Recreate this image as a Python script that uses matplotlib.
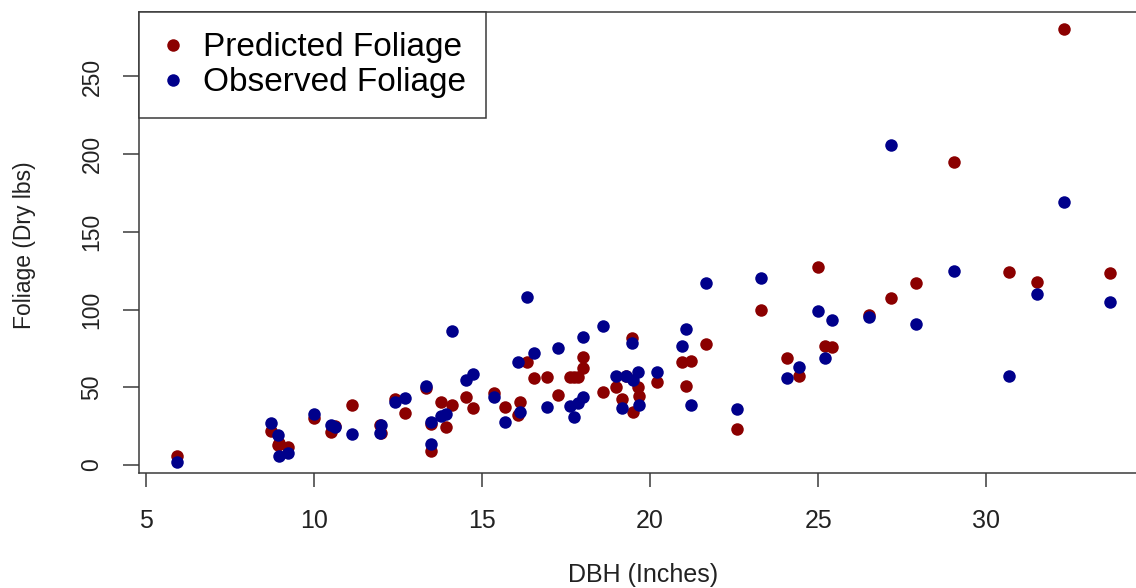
import matplotlib
matplotlib.use("Agg")
import matplotlib.pyplot as plt
from matplotlib.lines import Line2D

dbh = [5.93, 8.72, 8.93, 8.96, 9.23, 10.0, 10.51, 10.63, 11.13, 11.97, 11.99,
       12.41, 12.71, 13.33, 13.48, 13.49, 13.78, 13.93, 14.11, 14.52, 14.73,
       15.35, 15.68, 16.07, 16.13, 16.33, 16.54, 16.93, 17.26, 17.61, 17.73,
       17.85, 18.0, 18.02, 18.59, 18.98, 19.16, 19.28, 19.46, 19.49, 19.63,
       19.66, 20.2, 20.94, 21.06, 21.21, 21.66, 22.58, 23.29, 24.06, 24.42,
       24.99, 25.19, 25.4, 26.5, 27.18, 27.9, 29.03, 30.69, 31.52, 32.3, 33.67]

predicted = [6.0, 22.1, 13.1, 14.0, 11.8, 30.5, 21.5, 25.0, 38.8, 26.0, 20.8,
             42.7, 33.7, 49.8, 26.6, 9.2, 40.8, 24.7, 38.8, 44.0, 36.9,
             46.6, 37.5, 32.4, 40.8, 66.5, 56.2, 56.9, 45.3, 56.9, 56.9,
             56.9, 69.7, 62.7, 47.2, 50.4, 42.7, 57.0, 82.0, 34.3, 50.4,
             44.6, 53.6, 66.5, 51.1, 67.2, 77.8, 23.4, 100.0, 69.1, 57.5,
             127.7, 76.8, 76.2, 96.8, 107.7, 116.9, 194.7, 124.5, 117.5, 280.3, 123.6]

observed = [2.1, 27.2, 19.5, 6.0, 7.9, 33.0, 26.0, 24.7, 20.2, 20.8, 26.0,
            40.8, 43.3, 51.1, 27.9, 13.7, 31.7, 33.0, 86.5, 54.9, 58.8,
            44.0, 27.9, 66.5, 34.3, 108.4, 72.3, 37.5, 75.5, 38.2, 31.1,
            40.1, 44.0, 82.6, 89.7, 57.5, 36.9, 57.5, 78.8, 54.9, 60.1,
            38.8, 60.1, 76.8, 87.8, 38.8, 116.9, 36.3, 120.6, 56.2, 63.3,
            99.4, 69.1, 93.6, 95.5, 206.2, 91.0, 125.1, 57.5, 109.8, 169.5, 105.1]

labels = ["Predicted Foliage", "Observed Foliage"]
x_ticks = [5, 10, 15, 20, 25, 30]
y_ticks = [0, 50, 100, 150, 200, 250]

RED = "#8B0000"
BLUE = "#00008B"
AXC = "#3a3a3a"
MS = 9.0

plt.rcParams['font.family'] = ['Liberation Sans', 'DejaVu Sans']

fig = plt.figure(figsize=(11.36, 5.88), dpi=100)
W, H = 1136, 588
left, right, top, bottom = 139, 1147, 12.3, 472.7
ax = fig.add_axes([left / W, 1 - bottom / H, (right - left) / W, (bottom - top) / H])

ax.plot(dbh, predicted, 'o', color=RED, markersize=MS, markeredgewidth=0, linestyle='none')
ax.plot(dbh, observed, 'o', color=BLUE, markersize=MS, markeredgewidth=0, linestyle='none')

ax.set_xlim(4.80, 34.78)
ax.set_ylim(-4.97, 291.3)
ax.set_xticks(x_ticks)
ax.set_yticks(y_ticks)
ax.set_xticklabels([str(v) for v in x_ticks], fontsize=18)
ax.set_yticklabels([str(v) for v in y_ticks], fontsize=16.5, rotation=90, va='center')

for s in ax.spines.values():
    s.set_color(AXC)
    s.set_linewidth(1.1)
ax.tick_params(axis='x', direction='out', length=10.3, width=1.1, color=AXC, pad=16, labelcolor='#222222')
ax.tick_params(axis='y', direction='out', length=11.5, width=1.1, color=AXC, pad=14, labelcolor='#222222')

fig.text(643 / W, 1 - 575 / H, "DBH (Inches)", fontsize=18, ha='center', va='center', color='#222222')
fig.text(25 / W, 1 - 245 / H, "Foliage (Dry lbs)", fontsize=16.5, rotation=90, ha='center', va='center', color='#222222')

handles = [Line2D([], [], marker='o', linestyle='none', color=RED, markersize=MS, markeredgewidth=0),
           Line2D([], [], marker='o', linestyle='none', color=BLUE, markersize=MS, markeredgewidth=0)]
leg = ax.legend(handles, labels, loc='upper left', bbox_to_anchor=(0, 1), borderaxespad=0,
                fontsize=24, fancybox=False, framealpha=1, edgecolor=AXC,
                borderpad=0.6, labelspacing=0.12, handlelength=0.86, handletextpad=0.47,
                handleheight=0.7)
leg.get_frame().set_linewidth(1.1)
leg.get_frame().set_boxstyle('square', pad=0)

fig.savefig("out.png", dpi=100)
